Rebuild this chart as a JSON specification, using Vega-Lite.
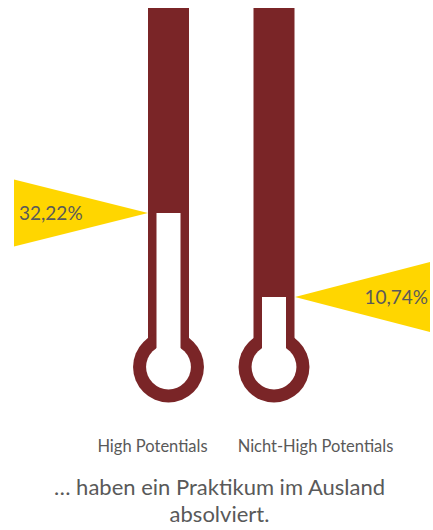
{
  "$schema": "https://vega.github.io/schema/vega-lite/v6.json",
  "width": 433,
  "height": 420,
  "padding": 0,
  "background": "white",
  "config": {"view": {"stroke": null}, "font": "Lato"},
  "data": {"values": [
    {"gruppe": "High Potentials", "anteil": 32.22, "label": "32,22%"},
    {"gruppe": "Nicht-High Potentials", "anteil": 10.74, "label": "10,74%"}
  ]},
  "title": {
    "text": ["… haben ein Praktikum im Ausland", "absolviert."],
    "orient": "bottom",
    "anchor": "middle",
    "font": "Lato",
    "fontSize": 22,
    "fontWeight": "normal",
    "color": "#595959",
    "lineHeight": 27,
    "offset": 23,
    "dx": 3
  },
  "encoding": {
    "x": {
      "field": "gruppe",
      "type": "nominal",
      "scale": {"type": "point", "range": [168.5, 274], "padding": 0},
      "axis": {
        "title": null,
        "domain": false,
        "ticks": false,
        "labelAngle": 0,
        "labelFont": "Lato",
        "labelFontSize": 16.5,
        "labelColor": "#595959",
        "labelBaseline": "alphabetic",
        "labelPadding": 31,
        "labelOffset": {"condition": {"test": "datum.value == 'High Potentials'", "value": -16.5}, "value": 41}
      }
    }
  },
  "layer": [
    {
      "mark": {"type": "bar", "width": 41, "color": "#7A2527"},
      "encoding": {
        "y": {"datum": 84.65, "type": "quantitative", "scale": {"domain": [-20.716, 86.701], "nice": false, "zero": false}, "axis": null},
        "y2": {"datum": -7.16}
      }
    },
    {
      "mark": {"type": "point", "shape": "circle", "filled": true, "size": 5027, "color": "#7A2527", "opacity": 1},
      "encoding": {
        "y": {"datum": -7.16, "type": "quantitative", "scale": {"domain": [-20.716, 86.701], "nice": false, "zero": false}}
      }
    },
    {
      "mark": {"type": "point", "shape": "circle", "filled": true, "size": 2011, "color": "white", "opacity": 1},
      "encoding": {
        "y": {"datum": -7.16, "type": "quantitative", "scale": {"domain": [-20.716, 86.701], "nice": false, "zero": false}}
      }
    },
    {
      "mark": {"type": "bar", "width": 24, "color": "white"},
      "encoding": {
        "y": {"field": "anteil", "type": "quantitative", "scale": {"domain": [-20.716, 86.701], "nice": false, "zero": false}},
        "y2": {"datum": -7.16}
      }
    },
    {
      "transform": [{"filter": "datum.gruppe == 'High Potentials'"}],
      "layer": [
        {
          "mark": {"type": "point", "shape": "M1,0L-1,-0.5L-1,0.5Z", "filled": true, "size": 17956, "color": "#FFD600", "opacity": 1, "xOffset": -87.5},
          "encoding": {
            "y": {"field": "anteil", "type": "quantitative", "scale": {"domain": [-20.716, 86.701], "nice": false, "zero": false}}
          }
        },
        {
          "mark": {"type": "text", "align": "left", "baseline": "middle", "font": "Lato", "fontSize": 19, "color": "#5A5A5A", "xOffset": -149.5, "dy": 1},
          "encoding": {
            "y": {"field": "anteil", "type": "quantitative", "scale": {"domain": [-20.716, 86.701], "nice": false, "zero": false}},
            "text": {"field": "label"}
          }
        }
      ]
    },
    {
      "transform": [{"filter": "datum.gruppe == 'Nicht-High Potentials'"}],
      "layer": [
        {
          "mark": {"type": "point", "shape": "M-1,0L1,-0.52L1,0.52Z", "filled": true, "size": 18225, "color": "#FFD600", "opacity": 1, "xOffset": 88.5},
          "encoding": {
            "y": {"field": "anteil", "type": "quantitative", "scale": {"domain": [-20.716, 86.701], "nice": false, "zero": false}}
          }
        },
        {
          "mark": {"type": "text", "align": "right", "baseline": "middle", "font": "Lato", "fontSize": 19, "color": "#5A5A5A", "xOffset": 154, "dy": 1},
          "encoding": {
            "y": {"field": "anteil", "type": "quantitative", "scale": {"domain": [-20.716, 86.701], "nice": false, "zero": false}},
            "text": {"field": "label"}
          }
        }
      ]
    }
  ]
}
